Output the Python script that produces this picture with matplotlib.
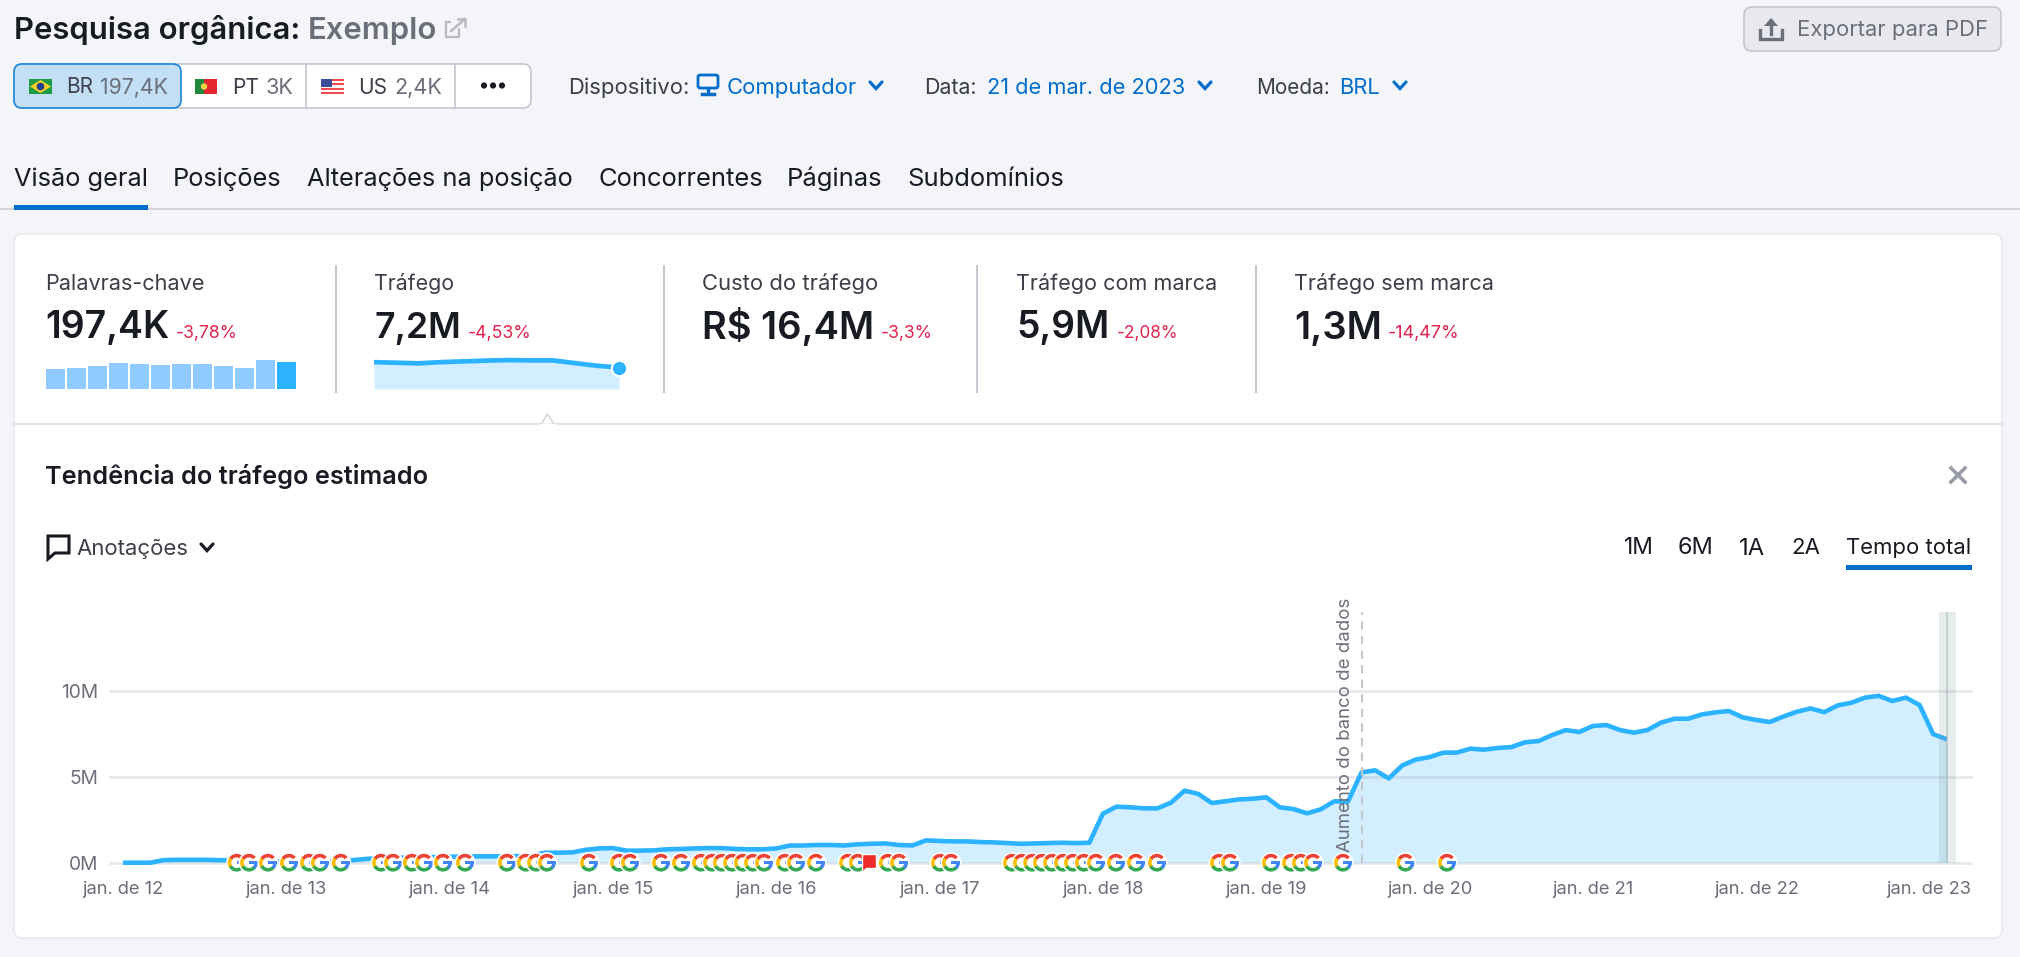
import matplotlib
matplotlib.use("Agg")
import matplotlib.pyplot as plt
from matplotlib.patches import FancyBboxPatch, Rectangle, Circle, Wedge, Polygon
from matplotlib.transforms import IdentityTransform, ScaledTranslation

W, H = 2020, 957
plt.rcParams['font.family'] = ['Inter', 'DejaVu Sans']

# ---------- data ----------
traffic_m = [0.0, 0.0, 0.0, 0.15, 0.17, 0.17, 0.17, 0.15, 0.14, 0.12, 0.1, 0.08, 0.06, 0.06, 0.07, 0.08,
             0.1, 0.16, 0.23, 0.25, 0.27, 0.3, 0.3, 0.33, 0.35, 0.35, 0.37, 0.37, 0.37, 0.38,
             0.4, 0.58, 0.58, 0.6, 0.75, 0.83, 0.85, 0.7, 0.7, 0.72, 0.78, 0.8, 0.83, 0.85, 0.85, 0.8,
             0.78, 0.78, 0.83, 1.0, 1.0, 1.03, 1.03, 1.0, 1.07, 1.1, 1.12, 1.03, 1.0, 1.3,
             1.26, 1.24, 1.24, 1.2, 1.18, 1.14, 1.1, 1.12, 1.14, 1.16, 1.14, 1.16,
             2.85, 3.26, 3.22, 3.16, 3.16, 3.49, 4.19, 4.0, 3.47, 3.57, 3.68, 3.72, 3.8, 3.22,
             3.12, 2.87, 3.1, 3.57, 3.55, 5.25, 5.37, 4.9, 5.66, 6.0, 6.14, 6.4, 6.4, 6.63, 6.57,
             6.67, 6.72, 7.0, 7.07, 7.42, 7.71, 7.6, 7.95, 8.0, 7.71, 7.56, 7.71, 8.14, 8.37, 8.37,
             8.62, 8.74, 8.82, 8.45, 8.3, 8.18, 8.5, 8.78, 8.97, 8.75, 9.15, 9.3, 9.6, 9.7, 9.4,
             9.6, 9.17, 7.48, 7.17]
months = list(range(len(traffic_m)))
year_ticks = list(range(0, 133, 12))
year_labels = ['jan. de 12', 'jan. de 13', 'jan. de 14', 'jan. de 15', 'jan. de 16', 'jan. de 17',
               'jan. de 18', 'jan. de 19', 'jan. de 20', 'jan. de 21', 'jan. de 22', 'jan. de 23']
y_ticks = [0, 5, 10]
y_labels = ['0M', '5M', '10M']
google_updates = [8.35, 9.26, 10.65, 12.2, 13.67, 14.47, 16.0, 18.96, 19.84, 21.23, 22.12, 23.51, 25.13,
                  28.21, 29.6, 30.35, 31.15, 34.24, 36.44, 37.25, 39.53, 41.0, 42.47, 43.28, 44.0, 44.75,
                  45.55, 46.29, 47.1, 48.64, 49.45, 50.92, 53.27, 54.0, 56.2, 57.02, 60.03, 60.84, 65.32,
                  66.05, 66.8, 67.52, 68.26, 69.07, 69.8, 70.6, 71.49, 72.96, 74.43, 75.97, 80.53, 81.34,
                  84.35, 85.82, 86.55, 87.44, 89.64, 94.23, 97.28]
flag_month = 54.8
db_month = 91
selected_month = 134
keyword_bars = [147, 152, 168, 188, 181, 176, 181, 181, 168, 154, 207, 197]
spark_traffic = [9.0, 8.8, 8.6, 9.0, 9.26, 9.5, 9.7, 9.6, 9.6, 8.7, 7.8, 7.2]

# ---------- colours ----------
BG, DARK, GREY, BLUE, RED = '#f4f5f9', '#191b23', '#6c6e79', '#006dca', '#e0234e'
LINE, FILL = '#2bb3ff', '#d3efff'

fig = plt.figure(figsize=(W / 100, H / 100), dpi=100, facecolor=BG)
ui = fig.add_axes([0, 0, 1, 1], zorder=0)
ui.set_xlim(0, W); ui.set_ylim(H, 0); ui.axis('off')
renderer = fig.canvas.get_renderer()


def T(x, yc, s, x_end=None, size=15, color=DARK, weight='normal', ha='left', zorder=10):
    """Text with cap-centre at yc; if x_end is given the size is fitted to the width."""
    t = ui.text(x, yc, s, fontsize=size, color=color, weight=weight, ha=ha, va='baseline', zorder=zorder)
    if x_end is not None:
        w = t.get_window_extent(renderer).width
        size = size * (x_end - x) / w
        t.set_fontsize(size)
    t.set_y(yc + 0.36 * size * 100 / 72)
    return t


def box(x0, y0, x1, y1, r=6, fc='white', ec='none', lw=1, z=1):
    p = FancyBboxPatch((x0 + r, y0 + r), x1 - x0 - 2 * r, y1 - y0 - 2 * r,
                       boxstyle=f'round,pad={r},rounding_size={r}', fc=fc, ec=ec, lw=lw, zorder=z)
    ui.add_patch(p)
    return p


def chevron(xc, yc, color=BLUE, s=6):
    ui.plot([xc - s, xc, xc + s], [yc - s * 0.5, yc + s * 0.6, yc - s * 0.5], color=color, lw=2.3, zorder=10,
            solid_capstyle='round', solid_joinstyle='miter')


# ---------- header ----------
T(14, 28, 'Pesquisa orgânica:', 300, weight='semibold')
T(308, 28, 'Exemplo', 437, color=GREY, weight='semibold')
ui.add_patch(Rectangle((446, 22), 13, 15, fc='none', ec='#b9bac4', lw=1.6, zorder=5))
ui.add_patch(Rectangle((451, 17), 12, 11, fc=BG, ec='none', zorder=6))
ui.plot([451, 465], [31, 19], color='#b9bac4', lw=1.8, zorder=7)
ui.plot([458, 465, 465], [19, 19, 26], color='#b9bac4', lw=1.8, zorder=7)

box(1744, 7, 2001, 51, r=8, fc='#e8e9ef', ec='#c4c7cf', lw=1.2)
T(1797, 28, 'Exportar para PDF', 1988, color=GREY)
ui.plot([1760, 1760, 1782, 1782], [30, 39, 39, 30], color=GREY, lw=2.4, zorder=10, solid_joinstyle='miter')
ui.plot([1771, 1771], [34, 21], color=GREY, lw=2.4, zorder=10)
ui.add_patch(Polygon([[1771, 18], [1764, 26], [1778, 26]], fc=GREY, ec='none', zorder=10))

# segmented database control
box(14, 64, 531, 108, r=8, fc='white', ec='#c4c7cf', lw=1.2)
box(14, 64, 181, 108, r=8, fc='#c2dff6', ec='#1a86d9', lw=1.2, z=2)
for xd in (306, 455):
    ui.plot([xd, xd], [64, 108], color='#c4c7cf', lw=1.2, zorder=3)
# BR flag
ui.add_patch(Rectangle((29, 79), 23, 15, fc='#1f9a46', ec='none', zorder=5))
ui.add_patch(Polygon([[30, 86.5], [40.5, 80], [51, 86.5], [40.5, 93]], fc='#fbd020', ec='none', zorder=6))
ui.add_patch(Circle((40.5, 86.5), 3.8, fc='#1d3f8f', ec='none', zorder=7))
# PT flag
ui.add_patch(Rectangle((195, 79), 9, 15, fc='#1f8a3c', ec='none', zorder=5))
ui.add_patch(Rectangle((204, 79), 13, 15, fc='#e3262e', ec='none', zorder=5))
ui.add_patch(Circle((204, 86.5), 3.2, fc='#f2d24a', ec='none', zorder=6))
# US flag
for i in range(7):
    ui.add_patch(Rectangle((321, 79 + i * 15 / 7), 23, 15 / 7, fc='#ef4a4f' if i % 2 == 0 else 'white', ec='none', zorder=5))
ui.add_patch(Rectangle((321, 79), 11, 8, fc='#3a4d96', ec='none', zorder=6))
T(66, 86, 'BR', 93, color='#3c3e48')
T(100, 86, '197,4K', 168, color=GREY)
T(232, 86, 'PT', 259, color='#3c3e48')
T(266, 86, '3K', 294, color=GREY)
T(358, 86, 'US', 387, color='#3c3e48')
T(394, 86, '2,4K', 442, color=GREY)
for xd in (484, 493, 502):
    ui.add_patch(Circle((xd, 85.5), 3.1, fc=DARK, ec='none', zorder=10))

T(568, 86, 'Dispositivo:', 689, color='#3c3e48')
ui.add_patch(FancyBboxPatch((699, 76), 18, 11, boxstyle='round,pad=1,rounding_size=2', fc='none', ec=BLUE, lw=2, zorder=10))
ui.plot([708, 708], [89, 93], color=BLUE, lw=2.5, zorder=10)
ui.plot([702, 714], [94, 94], color=BLUE, lw=2.5, zorder=10)
T(727, 86, 'Computador', 857, color=BLUE)
chevron(876, 85)
T(924, 86, 'Data:', 977, color='#3c3e48')
T(987, 86, '21 de mar. de 2023', 1186, color=BLUE)
chevron(1205, 85)
T(1256, 86, 'Moeda:', 1330, color='#3c3e48')
T(1339, 86, 'BRL', 1380, color=BLUE)
chevron(1400, 85)

# tabs
for label, x0, x1 in [('Visão geral', 14, 148), ('Posições', 173, 282), ('Alterações na posição', 307, 573),
                      ('Concorrentes', 598, 763), ('Páginas', 787, 883), ('Subdomínios', 907, 1064)]:
    T(x0, 177, label, x1)
ui.plot([0, W], [209, 209], color='#d1d4db', lw=1.4, zorder=1)
ui.add_patch(Rectangle((14, 205), 134, 5, fc=BLUE, ec='none', zorder=3))

# ---------- card ----------
box(14, 234, 2002, 938, r=9, fc='white', ec='#e9eaef', lw=1.2)
ui.plot([14, 2002], [423.5, 423.5], color='#dfe0e7', lw=1.6, zorder=2)
ui.add_patch(Polygon([[541, 424.5], [547.5, 414], [554, 424.5]], fc='white', ec='#d6d7df', lw=1.2, zorder=3))
ui.plot([540, 555], [425, 425], color='white', lw=2.2, zorder=3)
for xd in (335.5, 664, 977, 1256):
    ui.plot([xd, xd], [266, 392], color='#c8cad3', lw=1.5, zorder=2)

metrics = [(45, 'Palavras-chave', 205, '197,4K', 169, 176, '-3,78%', 238),
           (374, 'Tráfego', 454, '7,2M', 461, 468, '-4,53%', 532),
           (702, 'Custo do tráfego', 878, 'R$ 16,4M', 874, 881, '-3,3%', 933),
           (1016, 'Tráfego com marca', 1217, '5,9M', 1109, 1117, '-2,08%', 1179),
           (1294, 'Tráfego sem marca', 1494, '1,3M', 1382, 1388, '-14,47%', 1460)]
for x0, lab, xl, val, xv, xd, delta, xde in metrics:
    T(x0, 282, lab, xl, color='#3c3e48')
    T(x0, 325, val, xv, weight='semibold')
    T(xd, 332, delta, xde, color=RED)

T(45, 475, 'Tendência do tráfego estimado', 427, weight='semibold')
ui.plot([1951, 1965], [468, 482], color='#9a9ca7', lw=2.6, zorder=10)
ui.plot([1951, 1965], [482, 468], color='#9a9ca7', lw=2.6, zorder=10)

# annotations control
ui.add_patch(Polygon([[48, 536], [69, 536], [69, 553], [55, 553], [48, 559]], fc='none', ec=DARK, lw=2.2, zorder=10))
T(76, 547, 'Anotações', 188, color='#3c3e48')
chevron(207, 547, color=DARK)

for label, x0, x1 in [('1M', 1624, 1654), ('6M', 1678, 1714), ('1A', 1739, 1765), ('2A', 1791, 1820),
                      ('Tempo total', 1846, 1971)]:
    T(x0, 546, label, x1, color='#191b23')
ui.add_patch(Rectangle((1846, 565), 126, 4.5, fc=BLUE, ec='none', zorder=3))

# ---------- mini charts ----------
def mini(x0, y0, x1, y1):
    a = fig.add_axes([x0 / W, 1 - y1 / H, (x1 - x0) / W, (y1 - y0) / H], zorder=2)
    a.axis('off')
    return a


kw = mini(45, 355, 297, 389)
kw.bar(range(len(keyword_bars)), keyword_bars, width=0.9,
       color=['#8fcbff'] * (len(keyword_bars) - 1) + [LINE])
kw.set_xlim(-0.5, len(keyword_bars) - 0.5); kw.set_ylim(0, 245)

sp = mini(374, 355, 619, 389)
xs = list(range(len(spark_traffic)))
sp.fill_between(xs, spark_traffic, color=FILL, lw=0)
sp.plot(xs, spark_traffic, color=LINE, lw=3.4, solid_capstyle='butt')
sp.plot(xs[-1], spark_traffic[-1], 'o', ms=11, mfc=LINE, mec='white', mew=1.5, clip_on=False, zorder=5)
sp.set_xlim(0, len(xs) - 1); sp.set_ylim(0, 11.4)

# ---------- main chart ----------
px_per_month = 13.61
x_left, x_right, y_top, y_bottom = 110, 1971, 612, 862.7
ax = fig.add_axes([x_left / W, 1 - y_bottom / H, (x_right - x_left) / W, (y_bottom - y_top) / H], zorder=3)
ax.patch.set_alpha(0)
ax.set_xlim((x_left - 123) / px_per_month, (x_right - 123) / px_per_month)
ax.set_ylim(0, (y_bottom - y_top) / 17.2)
for s in ax.spines.values():
    s.set_visible(False)
ax.set_yticks(y_ticks)
ax.set_yticklabels(y_labels, color=GREY, fontsize=13.8)
ax.set_xticks(year_ticks)
ax.set_xticklabels(year_labels, color=GREY, fontsize=13.2)
ax.tick_params(axis='both', length=0)
ax.tick_params(axis='y', pad=8.5)
ax.tick_params(axis='x', pad=13)
last_label = ax.get_xticklabels()[-1]
last_label.set_transform(last_label.get_transform() + ScaledTranslation(6.4 / 72, 0, fig.dpi_scale_trans))
ax.fill_between(months, traffic_m, color=FILL, lw=0, zorder=1)
ax.plot(months, traffic_m, color=LINE, lw=3.3, zorder=3, solid_joinstyle='round', solid_capstyle='butt', clip_on=False)
for v in y_ticks:
    ax.axhline(v, color='#777a88', alpha=0.17, lw=2, zorder=2, clip_on=False)
ax.axvline(db_month, color='#c5c7cf', lw=1.5, ls=(0, (4, 3)), zorder=4)
ax.text(db_month - 1.15, 0.65, 'Aumento do banco de dados', rotation=90, ha='center', va='bottom',
        color=GREY, fontsize=13.4, zorder=5, clip_on=False)
ax.axvspan(selected_month - 0.56, selected_month + 0.69, color='#7f9a9a', alpha=0.18, lw=0, zorder=4)
ax.axvspan(selected_month - 0.02, selected_month + 0.1, color='#7f9a9a', alpha=0.35, lw=0, zorder=4)

id_tr = IdentityTransform()


def google(month):
    cx, cy = ax.transData.transform((month, 0))
    r, w = 8.9, 3.6
    ax.add_patch(Circle((cx, cy), r + 1.6, fc='white', ec='none', transform=id_tr, zorder=6, clip_on=False))
    for th0, th1, col in [(40, 150, '#ea4335'), (145, 215, '#fbbc05'), (210, 320, '#34a853'), (315, 365, '#4285f4')]:
        ax.add_patch(Wedge((cx, cy), r, th0, th1, width=w, fc=col, ec='none', transform=id_tr, zorder=6, clip_on=False))
    ax.add_patch(Rectangle((cx, cy - 1.5), r, 3, fc='#4285f4', ec='none', transform=id_tr, zorder=6, clip_on=False))


for m in google_updates:
    google(m)
fx, fy = ax.transData.transform((flag_month, 0))
ax.add_patch(Polygon([[fx - 7, fy - 9], [fx - 7, fy + 9], [fx + 7, fy + 9], [fx + 7, fy - 5], [fx - 3, fy - 5]],
                     fc='#ee2b2b', ec='white', lw=1, transform=id_tr, zorder=7, clip_on=False))

fig.savefig('out.png', dpi=100, facecolor=BG)
